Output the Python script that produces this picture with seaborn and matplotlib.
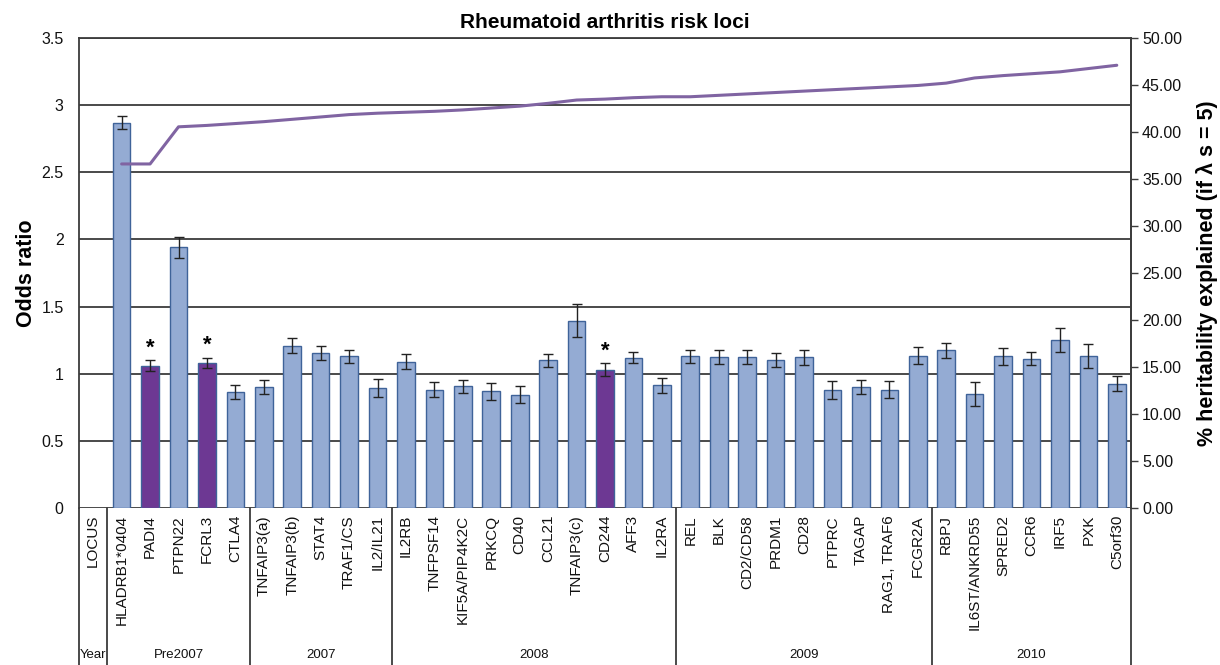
import numpy as np
import pandas as pd
import matplotlib
matplotlib.use("Agg")
import matplotlib.pyplot as plt
import matplotlib.transforms as mtransforms
import seaborn as sns

# ---------------- data ----------------
loci = ["HLADRB1*0404", "PADI4", "PTPN22", "FCRL3", "CTLA4",
        "TNFAIP3(a)", "TNFAIP3(b)", "STAT4", "TRAF1/CS", "IL2/IL21",
        "IL2RB", "TNFPSF14", "KIF5A/PIP4K2C", "PRKCQ", "CD40", "CCL21",
        "TNFAIP3(c)", "CD244", "AFF3", "IL2RA",
        "REL", "BLK", "CD2/CD58", "PRDM1", "CD28", "PTPRC", "TAGAP",
        "RAG1, TRAF6", "FCGR2A",
        "RBPJ", "IL6ST/ANKRD55", "SPRED2", "CCR6", "IRF5", "PXK", "C5orf30"]
odds = [2.87, 1.06, 1.94, 1.08, 0.865,
        0.90, 1.21, 1.155, 1.13, 0.895,
        1.09, 0.88, 0.905, 0.87, 0.843, 1.10, 1.395, 1.03, 1.12, 0.915,
        1.13, 1.123, 1.123, 1.103, 1.123, 0.88, 0.902, 0.882, 1.135,
        1.175, 0.85, 1.13, 1.113, 1.254, 1.13, 0.927]
err = [0.05, 0.043, 0.075, 0.04, 0.052,
       0.05, 0.055, 0.053, 0.05, 0.065,
       0.055, 0.055, 0.046, 0.063, 0.062, 0.049, 0.121, 0.047, 0.043, 0.055,
       0.05, 0.051, 0.05, 0.051, 0.057, 0.068, 0.05, 0.065, 0.066,
       0.056, 0.087, 0.065, 0.046, 0.09, 0.088, 0.055]
heritability = [36.6, 36.6, 40.55, 40.7, 40.9,
                41.1, 41.35, 41.6, 41.85, 42.0,
                42.1, 42.2, 42.35, 42.55, 42.75, 43.05, 43.4, 43.5, 43.65, 43.75,
                43.75, 43.9, 44.05, 44.2, 44.35, 44.5, 44.65, 44.8, 44.95,
                45.2, 45.75, 46.0, 46.2, 46.4, 46.75, 47.1]
highlight = ["PADI4", "FCRL3", "CD244"]
year_groups = ["Pre2007", "2007", "2008", "2009", "2010"]
year_sizes = [5, 5, 10, 9, 7]

odds_ticks = [0, 0.5, 1, 1.5, 2, 2.5, 3, 3.5]
odds_tick_labels = ["0", "0.5", "1", "1.5", "2", "2.5", "3", "3.5"]
herit_ticks = [0, 5, 10, 15, 20, 25, 30, 35, 40, 45, 50]

# ---------------- style ----------------
sns.set_theme(style="white")
plt.rcParams["font.family"] = ["Liberation Sans", "DejaVu Sans"]

BLUE = "#94ABD3"
BLUE_EDGE = "#3F6399"
PURPLE = "#6D3893"
LINE = "#8064A2"
GRID = "#3c3c3c"
TXT = "#111111"

fig = plt.figure(figsize=(12.2, 6.65), dpi=100)
ax = fig.add_axes([79 / 1220, 1 - 508 / 665, (1131 - 79) / 1220, 470 / 665])

order = ["LOCUS"] + loci
df = pd.DataFrame({
    "locus": loci,
    "odds": odds,
    "kind": ["hl" if l in highlight else "std" for l in loci],
})

sns.barplot(data=df, x="locus", y="odds", hue="kind", order=order,
            hue_order=["std", "hl"], palette={"std": BLUE, "hl": PURPLE},
            saturation=1, dodge=False, width=0.62, errorbar=None,
            legend=False, edgecolor=BLUE_EDGE, linewidth=1.0, ax=ax,
            zorder=3)

pos = np.array([order.index(l) for l in loci])
ax.errorbar(pos, odds, yerr=err, fmt="none", ecolor="#222222",
            elinewidth=1.0, capsize=3.5, capthick=1.0, zorder=4)

# asterisks
for l in highlight:
    i = loci.index(l)
    ax.text(pos[i], odds[i] + err[i] + 0.012, "*", ha="center", va="bottom",
            fontsize=16, fontweight="bold", color="black", zorder=5)

ax.set_xlim(-0.5, len(order) - 0.5)
ax.set_ylim(0, 3.5)
ax.set_yticks(odds_ticks)
ax.set_yticklabels(odds_tick_labels)
ax.yaxis.grid(True, color=GRID, linewidth=1.3)
ax.xaxis.grid(False)
ax.set_axisbelow(True)
ax.tick_params(axis="y", length=0, pad=11, labelsize=11.5, labelcolor=TXT)
ax.tick_params(axis="x", length=0, pad=5, labelsize=11, labelcolor=TXT)
ax.set_xticks(range(len(order)))
ax.set_xticklabels(order, rotation=90, va="top", ha="center")
ax.set_xlabel("")
ax.set_ylabel("")
ax.spines["bottom"].set_visible(False)
ax.spines["top"].set_color(GRID)
ax.spines["top"].set_linewidth(1.3)
for s in ["left", "right"]:
    ax.spines[s].set_color(GRID)
    ax.spines[s].set_linewidth(1.3)

# secondary axis: heritability line
ax2 = ax.twinx()
sns.lineplot(x=pos, y=heritability, ax=ax2, color=LINE, linewidth=2.2,
             zorder=6)
ax2.set_ylim(0, 50)
ax2.set_yticks(herit_ticks)
ax2.set_yticklabels([f"{t:.2f}" for t in herit_ticks])
ax2.tick_params(axis="y", direction="out", length=5, width=1.0, color=GRID,
                pad=3, labelsize=11.5, labelcolor=TXT, right=True)
ax2.set_xlabel("")
ax2.set_ylabel("")
ax2.grid(False)
for s in ["top", "bottom", "left"]:
    ax2.spines[s].set_visible(False)
ax2.spines["right"].set_color(GRID)
ax2.spines["right"].set_linewidth(1.3)

# ---------------- lower table ----------------
ybot = -(665 - 508) / 470
trans = mtransforms.blended_transform_factory(ax.transData, ax.transAxes)
seps = [-0.5, 0.5]
c = 0.5
for n in year_sizes:
    c += n
    seps.append(c)
for x in seps:
    ax.plot([x, x], [0, ybot], transform=trans, color=GRID, lw=1.3,
            clip_on=False, zorder=1)

start = 0.5
for g, n in zip(year_groups, year_sizes):
    ax.text(start + n / 2, -0.313, g, transform=trans, ha="center",
            va="center", fontsize=9.5, color=TXT)
    start += n
ax.text(-0.48, -0.313, "Year", transform=trans, ha="left", va="center",
        fontsize=9.5, color=TXT)

# ---------------- titles ----------------
fig.text(605 / 1220, 1 - 22 / 665, "Rheumatoid arthritis risk loci",
         ha="center", va="center", fontsize=15, fontweight="bold", color="black")
fig.text(27 / 1220, 1 - 273 / 665, "Odds ratio", rotation=90, ha="center",
         va="center", fontsize=15.5, fontweight="bold", color="black")
fig.text(1207 / 1220, 1 - 273 / 665, "% heritability explained (if λ s = 5)",
         rotation=90, ha="center", va="center", fontsize=15.5,
         fontweight="bold", color="black")

fig.savefig("out.png", dpi=100)
